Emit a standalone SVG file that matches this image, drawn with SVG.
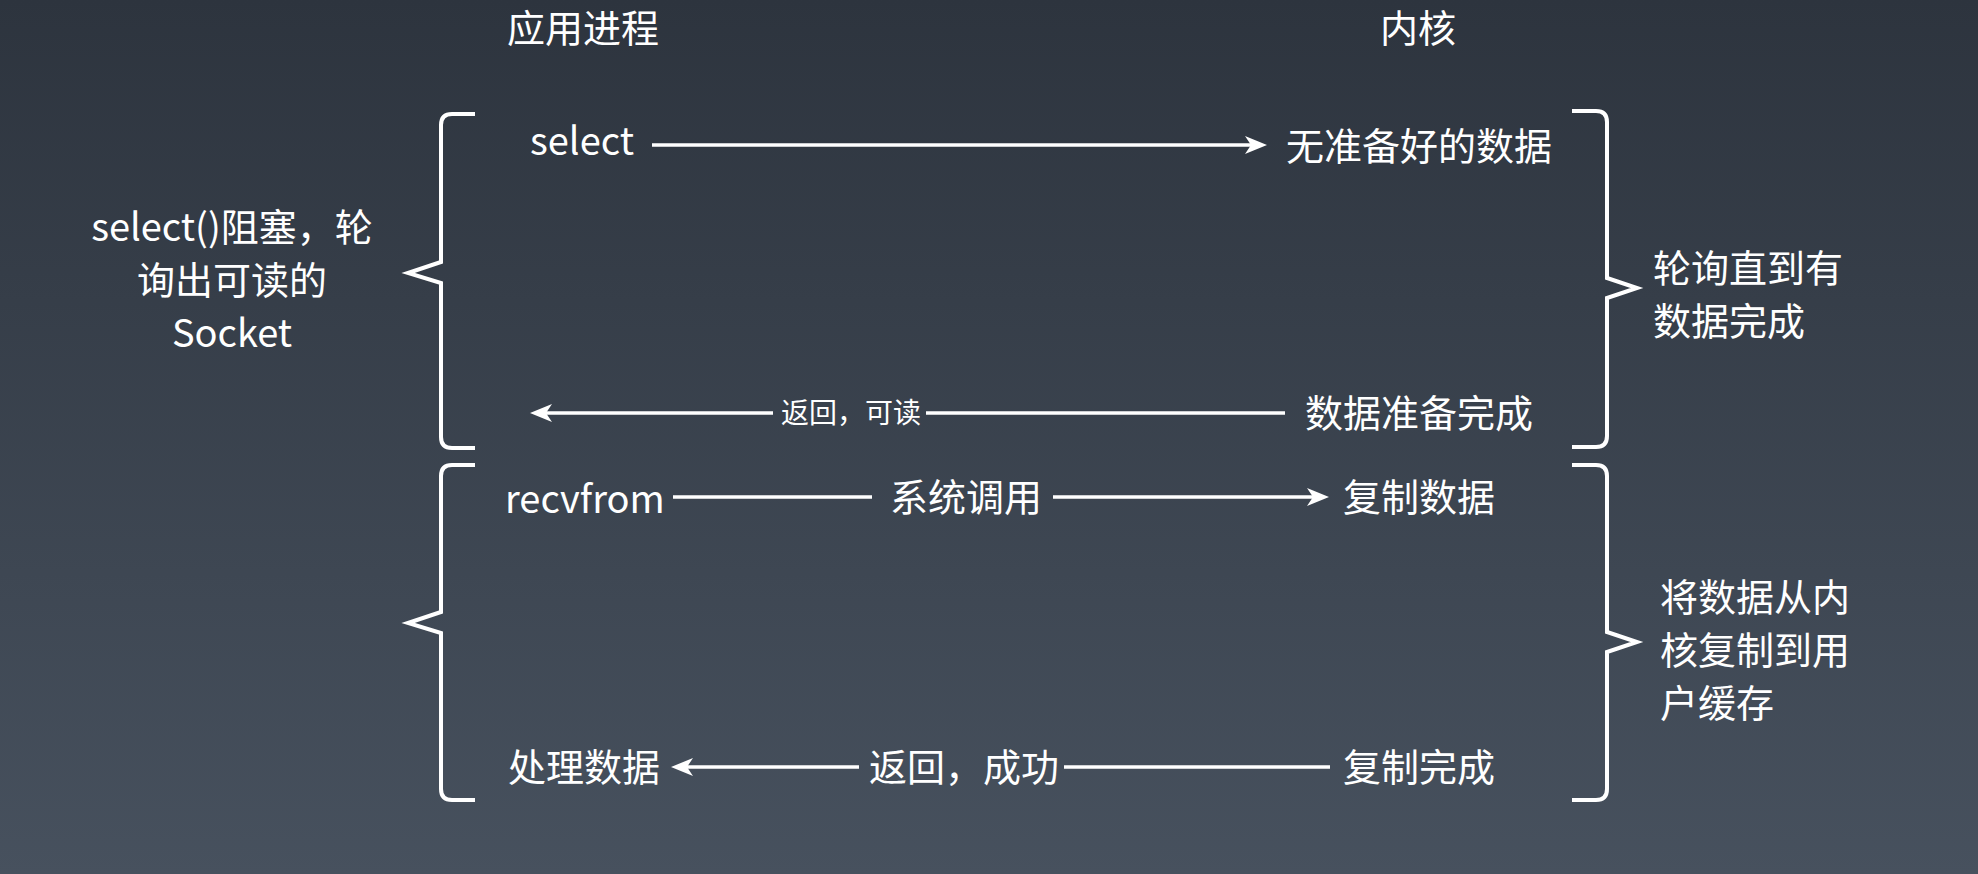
<svg xmlns="http://www.w3.org/2000/svg" width="1978" height="874" viewBox="0 0 1978 874">
<defs>
<linearGradient id="bg" x1="0" y1="0" x2="0" y2="1">
<stop offset="0" stop-color="#2d343e"/>
<stop offset="1" stop-color="#47515e"/>
</linearGradient>
<marker id="ah" markerUnits="userSpaceOnUse" markerWidth="24" markerHeight="22" refX="16" refY="11" orient="auto">
<path d="M0,2 L22,11 L0,20 L6,11 Z" fill="#ffffff"/>
</marker>
<style>
text{font-family:"Noto Sans CJK SC","Noto Sans",sans-serif;fill:#ffffff;font-size:38px}
.sm{font-size:28px}
.mid{text-anchor:middle}
.ln{stroke:#ffffff;stroke-width:3.5;fill:none}
.br{stroke:#ffffff;stroke-width:4;fill:none;stroke-linejoin:miter}
</style>
</defs>
<rect width="1978" height="874" fill="url(#bg)"/>

<g id="headers">
<text id="app-title" class="mid" x="583" y="42">应用进程</text>
<text id="kernel-title" class="mid" x="1418" y="42">内核</text>
</g>

<g id="braces">
<path id="brace-left-1" class="br" d="M475,114 H452 Q441,114 441,125 V262 L408,273 L441,283 V437 Q441,448 452,448 H475"/>
<path id="brace-left-2" class="br" d="M475,465 H452 Q441,465 441,476 V612 L408,623 L441,633 V789 Q441,800 452,800 H475"/>
<path id="brace-right-1" class="br" d="M1572,111 H1596 Q1607,111 1607,122 V278 L1637,288 L1607,298 V436 Q1607,447 1596,447 H1572"/>
<path id="brace-right-2" class="br" d="M1572,465 H1596 Q1607,465 1607,476 V632 L1637,642 L1607,652 V789 Q1607,800 1596,800 H1572"/>
</g>

<g id="connectors">
<path class="ln" d="M652,145 H1261" marker-end="url(#ah)"/>
<path class="ln" d="M1285,413 H926"/>
<path class="ln" d="M773,413 H536" marker-end="url(#ah)"/>
<path class="ln" d="M673,497 H872"/>
<path class="ln" d="M1053,497 H1323" marker-end="url(#ah)"/>
<path class="ln" d="M1330,767 H1064"/>
<path class="ln" d="M859,767 H677" marker-end="url(#ah)"/>
</g>

<g id="node-select"><text x="530" y="155">select</text></g>
<g id="node-no-data"><text x="1286" y="160">无准备好的数据</text></g>
<g id="label-return-readable"><text class="sm" x="781" y="423">返回，可读</text></g>
<g id="node-data-ready"><text x="1305" y="427">数据准备完成</text></g>
<g id="node-recvfrom"><text x="505" y="513">recvfrom</text></g>
<g id="label-syscall"><text x="890" y="511">系统调用</text></g>
<g id="node-copy-data"><text x="1343" y="511">复制数据</text></g>
<g id="node-process-data"><text x="508" y="781">处理数据</text></g>
<g id="label-return-success"><text x="869" y="781">返回，成功</text></g>
<g id="node-copy-done"><text x="1343" y="781">复制完成</text></g>

<g id="note-select-block">
<text class="mid" x="232" y="241">select()阻塞，轮</text>
<text class="mid" x="232" y="294">询出可读的</text>
<text class="mid" x="232" y="347">Socket</text>
</g>
<g id="note-polling">
<text x="1653" y="282">轮询直到有</text>
<text x="1653" y="335">数据完成</text>
</g>
<g id="note-copy">
<text x="1660" y="611">将数据从内</text>
<text x="1660" y="664">核复制到用</text>
<text x="1660" y="717">户缓存</text>
</g>
</svg>
